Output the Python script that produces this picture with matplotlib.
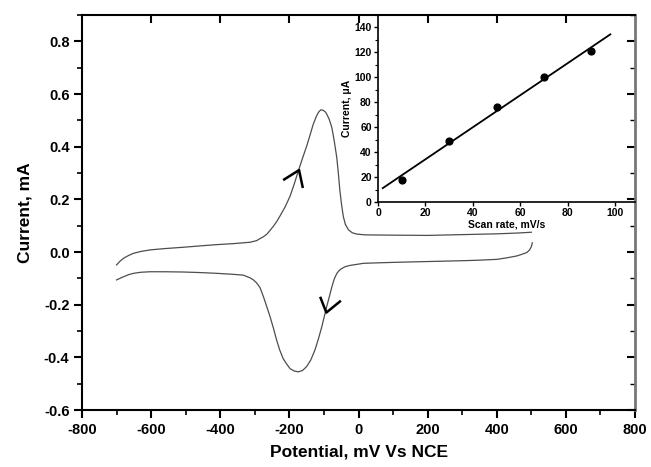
import numpy as np
import matplotlib
matplotlib.use("Agg")
import matplotlib.pyplot as plt
from matplotlib.ticker import MultipleLocator

plt.rcParams['font.family'] = ['Liberation Sans', 'DejaVu Sans']
plt.rcParams['font.weight'] = 'bold'

# Cyclic voltammogram: anodic (forward) branch, mV vs NCE / mA
anodic_E = [-700, -690, -680, -665, -651, -630, -603, -560, -507, -460, -410, -360, -314,
            -295, -285, -275, -265, -256, -245, -236, -227, -212, -198, -186, -174, -162,
            -150, -140, -131, -122, -115, -109, -102, -96, -92, -85, -77, -70, -63, -58,
            -54, -49, -44, -38, -29, -18, -5, 20, 100, 200, 300, 400, 460, 500]
anodic_I = [-0.049, -0.035, -0.024, -0.013, -0.005, 0.002, 0.008, 0.013, 0.018, 0.023,
            0.028, 0.032, 0.037, 0.043, 0.051, 0.058, 0.068, 0.082, 0.100, 0.117, 0.137,
            0.172, 0.212, 0.258, 0.308, 0.356, 0.402, 0.445, 0.485, 0.515, 0.532, 0.540,
            0.538, 0.532, 0.524, 0.505, 0.472, 0.420, 0.360, 0.295, 0.235, 0.180, 0.135,
            0.105, 0.084, 0.073, 0.068, 0.065, 0.064, 0.063, 0.066, 0.069, 0.072, 0.075]

# Cathodic (reverse) branch
cathodic_E = [503, 500, 495, 487, 470, 458, 430, 400, 350, 304, 207, 111, 60, 14, -5, -25,
              -39, -50, -57, -63, -70, -77, -84, -92, -99, -106, -116, -126, -138, -150,
              -162, -174, -186, -198, -208, -218, -228, -237, -246, -256, -266, -275, -285,
              -295, -304, -314, -333, -360, -410, -460, -507, -560, -603, -630, -651, -665,
              -680, -690, -700]
cathodic_I = [0.035, 0.020, 0.008, -0.002, -0.010, -0.015, -0.022, -0.028, -0.031, -0.033,
              -0.036, -0.039, -0.041, -0.043, -0.047, -0.051, -0.056, -0.064, -0.072,
              -0.082, -0.102, -0.132, -0.168, -0.207, -0.245, -0.283, -0.330, -0.372,
              -0.410, -0.435, -0.450, -0.455, -0.452, -0.443, -0.425, -0.405, -0.372,
              -0.334, -0.290, -0.245, -0.205, -0.170, -0.135, -0.117, -0.106, -0.098,
              -0.088, -0.085, -0.081, -0.078, -0.076, -0.075, -0.075, -0.077, -0.081,
              -0.086, -0.094, -0.100, -0.106]

# Inset: peak current (μA) vs scan rate (mV/s)
scan_rate = [10, 30, 50, 70, 90]
peak_current = [18, 49, 76, 100, 121]

# Arrow chevrons (scan-direction markers)
arrow_up_E = [-218, -172, -161]
arrow_up_I = [0.273, 0.311, 0.243]
arrow_dn_E = [-111, -93, -51]
arrow_dn_I = [-0.17, -0.23, -0.185]

fig = plt.figure(figsize=(6.51, 4.67), dpi=100)
ax = fig.add_axes([82/651, 1-410/467, (635-82)/651, (410-15)/467])

curve_color = '#4d4d4d'
ax.plot(anodic_E, anodic_I, color=curve_color, lw=0.9)
ax.plot(cathodic_E, cathodic_I, color=curve_color, lw=0.9)
ax.plot(arrow_up_E, arrow_up_I, color='black', lw=1.8, solid_capstyle='butt')
ax.plot(arrow_dn_E, arrow_dn_I, color='black', lw=1.8, solid_capstyle='butt')

ax.set_xlim(-800, 800)
ax.set_ylim(-0.6, 0.9)
ax.xaxis.set_minor_locator(MultipleLocator(100))
ax.yaxis.set_minor_locator(MultipleLocator(0.1))
ax.set_yticks([-0.6, -0.4, -0.2, 0.0, 0.2, 0.4, 0.6, 0.8])
ax.set_yticklabels(['-0.6', '-0.4', '-0.2', '0.0', '0.2', '0.4', '0.6', '0.8'])
ax.set_xticks([-800, -600, -400, -200, 0, 200, 400, 600, 800])
ax.set_xticklabels(['-800', '-600', '-400', '-200', '0', '200', '400', '600', '800'])

ax.tick_params(axis='both', which='major', direction='out', length=6, width=1.5,
               labelsize=10.5, pad=3)
ax.tick_params(axis='both', which='minor', direction='out', length=3.5, width=1.2)
ax.tick_params(axis='y', which='both', right=False)
ax.tick_params(axis='x', which='both', top=False)

for s in ax.spines.values():
    s.set_linewidth(1.5)
ax.spines['right'].set_color('#777777')
ax.spines['right'].set_linewidth(2.0)

# inward ticks on right and top
ax_r = ax.secondary_yaxis('right')
ax_r.set_yticks([-0.6, -0.4, -0.2, 0.0, 0.2, 0.4, 0.6, 0.8])
ax_r.yaxis.set_minor_locator(MultipleLocator(0.1))
ax_r.tick_params(which='major', direction='in', length=6, width=1.5, labelright=False)
ax_r.tick_params(which='minor', direction='in', length=3.5, width=1.0)
ax_r.spines['right'].set_visible(False)

ax_t = ax.secondary_xaxis('top')
ax_t.set_xticks([-600, -400, -200, 0, 200, 400, 600])
ax_t.tick_params(which='major', direction='in', length=6, width=1.5, labeltop=False)
ax_t.spines['top'].set_visible(False)

ax.set_xlabel('Potential, mV Vs NCE', fontsize=12.5, fontweight='bold', labelpad=6)
ax.set_ylabel('Current, mA', fontsize=12.5, fontweight='bold', labelpad=8)

# Inset
ins = fig.add_axes([378/651, 1-202/467, (635-378)/651, (202-15)/467])
ins.patch.set_alpha(0)
ins.scatter(scan_rate, peak_current, s=24, color='black', zorder=3)
slope, intercept = np.polyfit(scan_rate, peak_current, 1)
fit_x = np.array([2, 98])
ins.plot(fit_x, slope*fit_x + intercept, color='black', lw=1.3)
ins.set_xlim(0, 108.4)
ins.set_ylim(0, 150)
ins.set_xticks([0, 20, 40, 60, 80, 100])
ins.set_yticks([0, 20, 40, 60, 80, 100, 120, 140])
ins.yaxis.set_minor_locator(MultipleLocator(10))
ins.spines['top'].set_visible(False)
ins.spines['right'].set_visible(False)
for s in ['left', 'bottom']:
    ins.spines[s].set_linewidth(1.2)
ins.tick_params(which='major', direction='out', length=3, width=1.0, labelsize=7.5, pad=1.5)
ins.tick_params(which='minor', direction='out', length=2, width=0.8)
ins.set_xlabel('Scan rate, mV/s', fontsize=7.5, fontweight='bold', labelpad=1)
ins.set_ylabel('Current, μA', fontsize=7.5, fontweight='bold', labelpad=2)

fig.savefig('out.png', dpi=100)
